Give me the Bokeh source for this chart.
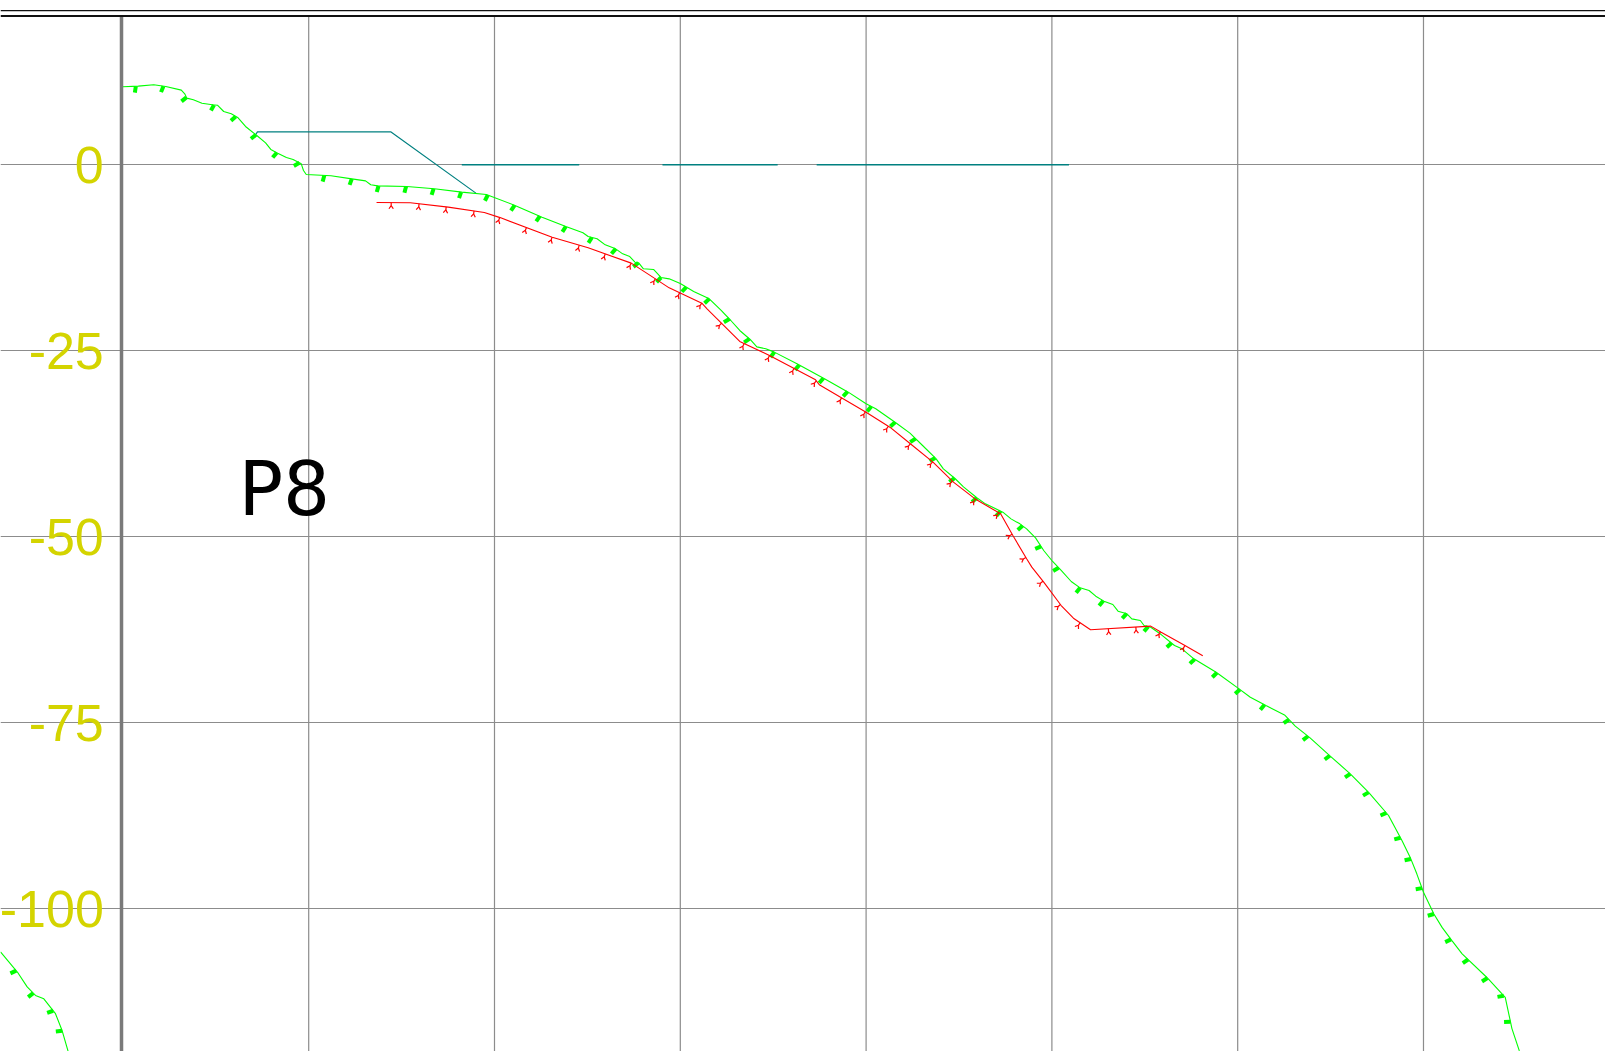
import numpy as np
from bokeh.embed import file_html
from bokeh.resources import INLINE
from bokeh.plotting import figure
from bokeh.models import LinearAxis, Grid, FixedTicker, Span
from bokeh.core.properties import value

y_ticks = [-100, -75, -50, -25, 0]
y_tick_labels = ["-100", "-75", "-50", "-25", "0"]
x_ticks = [25, 50, 75, 100, 125, 150, 175]
x_range_limits = (-16.47, 199.49)
y_range_limits = (-119.18, 22.08)

green_x = [0, 2.07, 4.15, 5.77, 7.86, 8.32, 8.6, 9.48, 10.64, 12.03, 12.72, 13.56, 14.58, 15.5, 16.5, 17.9, 19.2, 19.9,
           20.83, 22.0, 22.9, 24.0, 24.3, 24.67, 28.0, 30.8, 32.65, 33.35, 34.27, 38.2, 41.9, 45.6, 48.9, 52.6, 56.4,
           59.6, 61.9, 62.6, 63.8, 64.9, 66.3, 67.25, 68.2, 68.9, 69.4, 70.04, 71.4, 72.4, 73.5, 75.0, 76.8, 78.9, 80.5,
           81.8, 83.0, 84.4, 85.3, 86.5, 87.65, 90.7, 94.4, 97.6, 100.0, 101.3, 103.9, 105.9, 107.6, 109.4, 110.4, 112.0,
           113.1, 114.9, 116.05, 118.4, 119.5, 120.7, 121.6, 122.8, 123.9, 125.1, 126.25, 127.6, 128.8, 130.0, 130.9,
           132.0, 133.2, 133.9, 135.1, 135.75, 136.9, 137.4, 138.3, 139.7, 141.5, 142.5, 144.1, 147.1, 150.0, 151.7,
           153.8, 156.3, 157.75, 159.7, 162.45, 165.15, 167.65, 170.3, 172.1, 173.2, 174.1, 175.0, 176.4, 177.5, 178.8,
           180.2, 183.5, 186.0, 186.9, 187.9]
green_y = [10.48, 10.57, 10.75, 10.52, 10.03, 9.54, 8.96, 8.73, 8.28, 8.06, 8.01, 7.16, 6.85, 6.31, 5.15, 4.03, 2.95, 2.06,
           1.56, 0.98, 0.71, 0.13, -0.77, -1.3, -1.48, -1.89, -2.16, -2.69, -2.83, -2.92, -3.23, -3.68, -3.99, -5.4, -7.04,
           -8.29, -9.14, -9.64, -9.95, -10.76, -11.3, -11.97, -12.33, -13.09, -13.18, -13.98, -14.07, -15.15, -15.33, -15.96,
           -17.03, -18.02, -19.58, -20.93, -22.27, -23.48, -24.47, -24.73, -25.18, -26.75, -28.77, -30.56, -32.13, -32.8,
           -34.6, -36.07, -37.73, -39.5, -40.87, -42.2, -43.3, -44.76, -45.57, -46.69, -47.59, -48.26, -48.93, -50.14, -51.84,
           -53.32, -54.53, -56.01, -56.86, -57.22, -57.98, -58.65, -59.1, -60.0, -60.35, -61.03, -61.25, -61.92, -62.15,
           -63.14, -64.61, -65.06, -66.4, -68.2, -70.3, -71.56, -72.68, -73.95, -75.45, -77.0, -79.47, -81.86, -84.4, -87.46,
           -90.82, -93.06, -95.3, -97.77, -100.7, -102.5, -104.25, -106.05, -109.2, -111.9, -116.1, -119.1]
green_tick_x = [1.74, 5.45, 8.55, 12.26, 15.18, 17.9, 20.7, 23.75, 27.1, 30.8, 34.4, 38.1, 41.8, 45.5, 49.1, 52.7, 56.1,
                59.6, 63.1, 66.3, 69.35, 72.4, 75.8, 78.9, 81.6, 84.3, 87.65, 91.0, 94.25, 97.5, 100.7, 103.9, 106.65, 109.3,
                111.9, 114.9, 118.1, 121.05, 123.55, 125.9, 128.8, 131.9, 135.05, 137.96, 141.1, 144.2, 147.2, 150.3, 153.6,
                156.9, 159.45, 162.4, 165.15, 167.6, 170.0, 171.9, 173.3, 174.8, 176.4, 178.7, 181.0, 183.6, 185.8, 186.7]

left_green_x = [-16.47, -14.2, -12.88, -11.76, -10.64, -9.07, -8.17, -7.36]
left_green_y = [-105.8, -108.5, -110.5, -111.65, -112.1, -114.1, -116.4, -119.2]
left_tick_x = [-14.36, -12.07, -9.38, -8.17]

red_x = [34.13, 38.67, 43.77, 48.63, 50.75, 57.76, 62.6, 68.4, 71.66, 73.5, 77.9, 78.6, 83.0, 87.0, 93.2, 93.7, 100.0, 103.2,
         105.95, 109.0, 111.75, 114.8, 118.1, 119.75, 121.6, 122.3, 123.9, 126.25, 127.9, 130.2, 138.3, 139.7, 142.9, 145.3]
red_y = [-5.07, -5.11, -5.69, -6.41, -7.1, -9.73, -11.16, -13.22, -15.33, -16.54, -18.6, -19.36, -23.75, -25.63, -28.9, -29.57,
         -33.25, -35.27, -37.5, -39.97, -42.66, -45.0, -46.91, -49.83, -52.96, -54.08, -56.1, -59.24, -60.94, -62.5, -62.01,
         -62.82, -64.61, -66.0]
red_tick_x = [36.1, 39.85, 43.5, 47.25, 50.7, 54.3, 57.75, 61.4, 64.9, 68.4, 71.65, 74.9, 77.9, 80.55, 83.6, 87.0, 90.3, 93.3,
              96.7, 99.9, 103.0, 105.95, 108.95, 111.6, 114.7, 117.9, 119.65, 121.5, 123.8, 126.15, 128.8, 132.6, 136.3,
              139.6, 142.9]

teal_path_x = [17.9, 18.1, 36.03, 47.5]
teal_path_y = [4.1, 4.43, 4.43, -3.81]
teal_level_x0 = [45.6, 72.6, 93.35]
teal_level_x1 = [61.4, 88.1, 127.3]
teal_level_y = [0, 0, 0]

label_text = ["P8"]
label_x = [15.55]
label_y = [-43.6]

GREEN, RED, TEAL, YELLOW, GRAY = "#00ff00", "#ff0000", "#008080", "#d4d400", "#8c8c8c"
PX = 7.435  # screen pixels per chart unit
FRAME_TOP = 20.0


def normals(tx, x, y):
    """Unit normals pointing below-left of a polyline at the given x positions."""
    tx = np.asarray(tx, float)
    dx = np.full(tx.shape, 1.6)
    dy = np.interp(tx + 0.8, x, y) - np.interp(tx - 0.8, x, y)
    n = np.hypot(dx, dy)
    return dy / n, -dx / n


def rotate(nx, ny, deg):
    t = np.radians(deg)
    return nx * np.cos(t) + ny * np.sin(t), -nx * np.sin(t) + ny * np.cos(t)


p = figure(width=1605, height=1051, output_backend="svg", toolbar_location=None,
           x_range=x_range_limits, y_range=y_range_limits, x_axis_type=None, y_axis_type=None,
           min_border=0, outline_line_color=None, background_fill_color="white")

p.segment(x_ticks, [y_range_limits[0]] * len(x_ticks), x_ticks, [FRAME_TOP] * len(x_ticks),
          line_color=GRAY, line_width=1.2)
p.add_layout(Grid(dimension=1, ticker=FixedTicker(ticks=y_ticks), grid_line_color=GRAY, grid_line_width=1.0))

axis = LinearAxis(fixed_location=-0.15, ticker=FixedTicker(ticks=y_ticks), bounds=(y_range_limits[0], FRAME_TOP),
                  axis_line_color="#7a7a7a", axis_line_width=3.5,
                  major_tick_line_color=None, minor_tick_line_color=None, major_tick_in=0, major_tick_out=0,
                  major_label_overrides=dict(zip(y_ticks, y_tick_labels)),
                  major_label_standoff=18, major_label_text_color=YELLOW,
                  major_label_text_font="Liberation Sans", major_label_text_font_size="52px")
p.add_layout(axis, "left")

p.add_layout(Span(location=20.72, dimension="width", line_color="#111111", line_width=1.2))
p.add_layout(Span(location=FRAME_TOP, dimension="width", line_color="#111111", line_width=1.8))

p.line(teal_path_x, teal_path_y, line_color=TEAL, line_width=1.2)
p.segment(teal_level_x0, teal_level_y, teal_level_x1, teal_level_y, line_color=TEAL, line_width=1.5)

p.line(green_x, green_y, line_color=GREEN, line_width=1.1)
p.line(left_green_x, left_green_y, line_color=GREEN, line_width=1.1)

for tx, cx, cy in ((green_tick_x, green_x, green_y), (left_tick_x, left_green_x, left_green_y)):
    ax = np.asarray(tx, float)
    ay = np.interp(ax, cx, cy)
    nx, ny = rotate(*normals(ax, cx, cy), 12)
    p.segment(ax, ay, ax + nx * 6.4 / PX, ay + ny * 6.4 / PX, line_color=GREEN, line_width=4.0)

p.line(red_x, red_y, line_color=RED, line_width=1.1)
ax = np.asarray(red_tick_x, float)
ay = np.interp(ax, red_x, red_y)
nx, ny = normals(ax, red_x, red_y)
fx, fy = ax + nx * 3.0 / PX, ay + ny * 3.0 / PX
lx, ly = rotate(nx, ny, 35)
rx, ry = rotate(nx, ny, -35)
xs, ys = [], []
for i in range(len(ax)):
    xs.append([ax[i], fx[i], fx[i] + lx[i] * 3.8 / PX])
    ys.append([ay[i], fy[i], fy[i] + ly[i] * 3.8 / PX])
    xs.append([fx[i], fx[i] + rx[i] * 3.8 / PX])
    ys.append([fy[i], fy[i] + ry[i] * 3.8 / PX])
p.multi_line(xs, ys, line_color=RED, line_width=1.2)

p.text(label_x, label_y, text=label_text, text_font=value("DejaVu Sans"), text_font_size="74px",
       text_color="black", text_baseline="alphabetic", text_align="left")

open("out.html", "w").write(file_html(p, INLINE))
